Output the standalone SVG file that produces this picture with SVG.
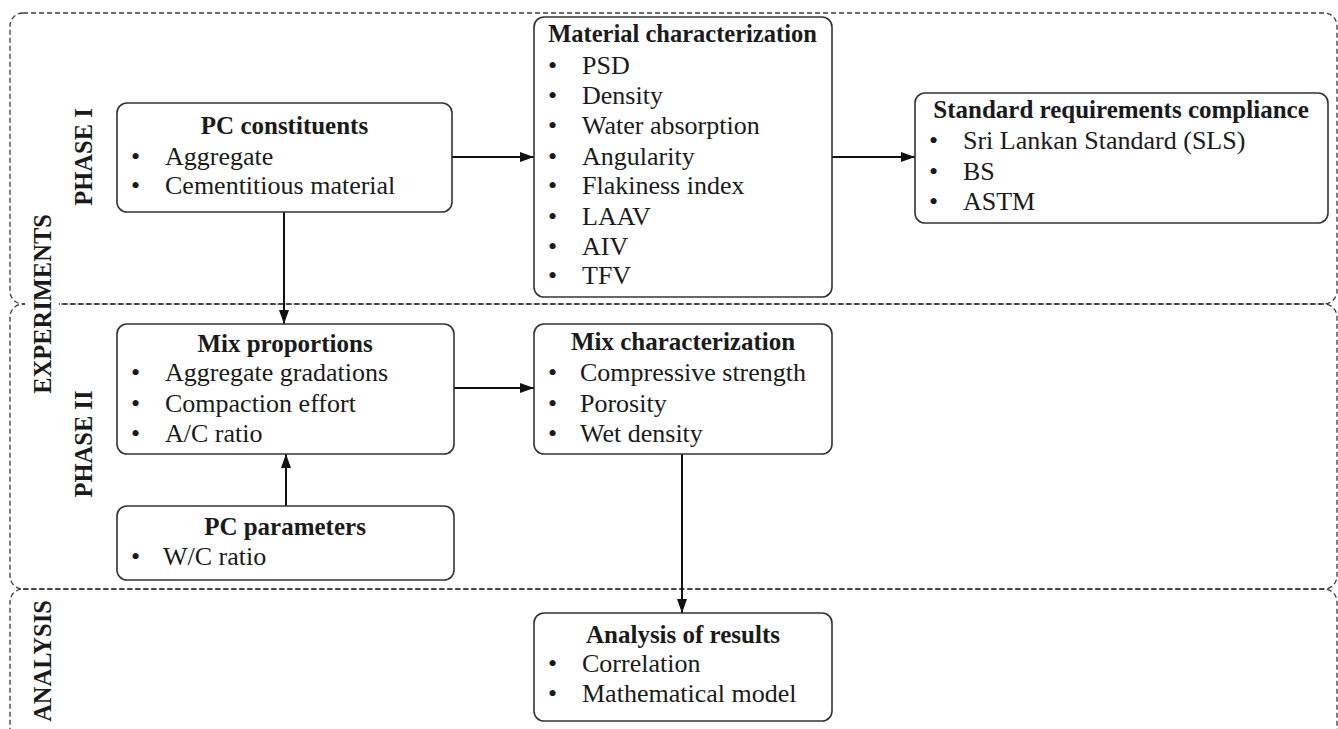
<svg xmlns="http://www.w3.org/2000/svg" width="1338" height="729" viewBox="0 0 1338 729">
<style>
.region{fill:none;stroke:#3a3a3a;stroke-width:1.3;stroke-dasharray:5 3}
.box{fill:#fff;stroke:#333;stroke-width:1.6}
.t{font-family:"Liberation Serif","Times New Roman",serif;font-size:26px;fill:#1a1a1a}
.b{font-weight:bold;font-size:25px}
.c{text-anchor:middle}
.lab{font-family:"Liberation Serif","Times New Roman",serif;font-size:24.5px;font-weight:bold;fill:#1a1a1a;text-anchor:middle}
.conn{stroke:#111;stroke-width:2;fill:none;marker-end:url(#ah)}
</style>
<defs>
<marker id="ah" markerUnits="userSpaceOnUse" markerWidth="15" markerHeight="11" refX="14" refY="5.5" orient="auto">
<path d="M0,0.5 L14,5.5 L0,10.5 z" fill="#111"/>
</marker>
</defs>
<rect width="1338" height="729" fill="#fff"/>
<g id="regions">
<rect class="region" x="10" y="13" width="1327" height="291" rx="13" ry="13"/>
<rect class="region" x="10" y="304" width="1327" height="285" rx="13" ry="13"/>
<rect class="region" x="10" y="589" width="1327" height="200" rx="13" ry="13"/>
</g>
<g id="labels">
<rect x="25" y="214" width="34" height="182" fill="#fff"/>
<text class="lab" transform="translate(51,304) rotate(-90)">EXPERIMENTS</text>
<text class="lab" transform="translate(92,157) rotate(-90)">PHASE I</text>
<text class="lab" transform="translate(92,444) rotate(-90)">PHASE II</text>
<text class="lab" transform="translate(51,661) rotate(-90)">ANALYSIS</text>
</g>
<g id="connectors">
<line class="conn" x1="452" y1="157" x2="534" y2="157"/>
<line class="conn" x1="832" y1="157" x2="915" y2="157"/>
<line class="conn" x1="284" y1="212" x2="284" y2="324"/>
<line class="conn" x1="286" y1="506" x2="286" y2="454"/>
<line class="conn" x1="454" y1="388" x2="534" y2="388"/>
<line class="conn" x1="682" y1="454" x2="682" y2="613"/>
</g>
<g id="pc-constituents">
<rect class="box" x="117" y="103" width="335" height="109" rx="10"/>
<text class="t b c" x="284.5" y="134">PC constituents</text>
<text class="t" x="131" y="165">•</text><text class="t" x="165" y="165">Aggregate</text>
<text class="t" x="131" y="194">•</text><text class="t" x="165" y="194">Cementitious material</text>
</g>
<g id="material-characterization">
<rect class="box" x="534" y="17" width="298" height="280" rx="10"/>
<text class="t b c" x="682.5" y="42" style="font-size:24.5px">Material characterization</text>
<text class="t" x="548" y="74">•</text><text class="t" x="582" y="74">PSD</text>
<text class="t" x="548" y="104">•</text><text class="t" x="582" y="104">Density</text>
<text class="t" x="548" y="134">•</text><text class="t" x="582" y="134">Water absorption</text>
<text class="t" x="548" y="165">•</text><text class="t" x="582" y="165">Angularity</text>
<text class="t" x="548" y="194">•</text><text class="t" x="582" y="194">Flakiness index</text>
<text class="t" x="548" y="225">•</text><text class="t" x="582" y="225">LAAV</text>
<text class="t" x="548" y="255">•</text><text class="t" x="582" y="255">AIV</text>
<text class="t" x="548" y="284">•</text><text class="t" x="582" y="284">TFV</text>
</g>
<g id="standard-requirements">
<rect class="box" x="915" y="93" width="413" height="130" rx="10"/>
<text class="t b c" x="1121" y="118">Standard requirements compliance</text>
<text class="t" x="929" y="149">•</text><text class="t" x="963" y="149">Sri Lankan Standard (SLS)</text>
<text class="t" x="929" y="180">•</text><text class="t" x="963" y="180">BS</text>
<text class="t" x="929" y="210">•</text><text class="t" x="963" y="210">ASTM</text>
</g>
<g id="mix-proportions">
<rect class="box" x="117" y="324" width="337" height="130" rx="10"/>
<text class="t b c" x="285" y="352">Mix proportions</text>
<text class="t" x="131" y="381">•</text><text class="t" x="165" y="381">Aggregate gradations</text>
<text class="t" x="131" y="412">•</text><text class="t" x="165" y="412">Compaction effort</text>
<text class="t" x="131" y="442">•</text><text class="t" x="165" y="442">A/C ratio</text>
</g>
<g id="pc-parameters">
<rect class="box" x="117" y="506" width="337" height="74" rx="10"/>
<text class="t b c" x="285" y="535">PC parameters</text>
<text class="t" x="131" y="565">•</text><text class="t" x="163" y="565">W/C ratio</text>
</g>
<g id="mix-characterization">
<rect class="box" x="534" y="324" width="298" height="130" rx="10"/>
<text class="t b c" x="683" y="350">Mix characterization</text>
<text class="t" x="548" y="381">•</text><text class="t" x="580" y="381">Compressive strength</text>
<text class="t" x="548" y="412">•</text><text class="t" x="580" y="412">Porosity</text>
<text class="t" x="548" y="442">•</text><text class="t" x="580" y="442">Wet density</text>
</g>
<g id="analysis-of-results">
<rect class="box" x="534" y="613" width="298" height="108" rx="10"/>
<text class="t b c" x="683" y="643">Analysis of results</text>
<text class="t" x="548" y="672">•</text><text class="t" x="582" y="672">Correlation</text>
<text class="t" x="548" y="702">•</text><text class="t" x="582" y="702">Mathematical model</text>
</g>
</svg>
